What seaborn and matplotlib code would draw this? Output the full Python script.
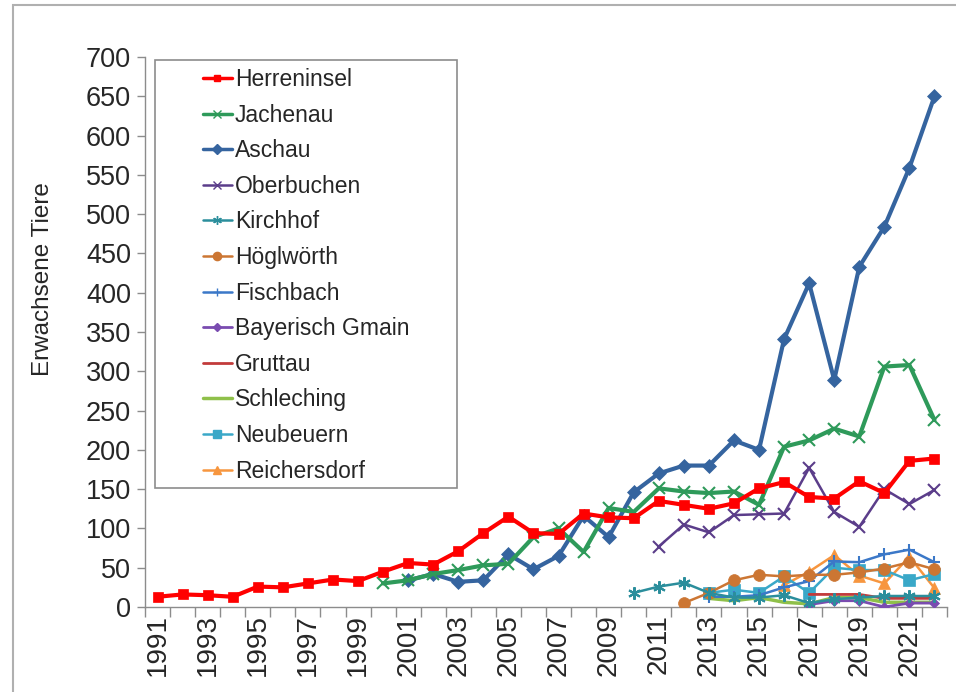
import numpy as np
import pandas as pd
import seaborn as sns
import matplotlib.pyplot as plt
from matplotlib.lines import Line2D
from matplotlib.patches import Rectangle

# values (adult animals per colony)
years_herreninsel = list(range(1991, 2023))
herreninsel = [13, 16, 15, 13, 26, 25, 30, 35, 33, 45, 56, 54, 71, 94, 115, 94, 93, 119, 114, 113,
               135, 130, 125, 132, 151, 159, 140, 138, 160, 145, 186, 189]

years_jachenau = list(range(2000, 2023))
jachenau = [30, 34, 42, 47, 53, 55, 89, 100, 70, 126, 121, 151, 147, 145, 147, 130, 204, 212, 227,
            217, 306, 308, 238]

years_aschau = list(range(2001, 2023))
aschau = [34, 42, 32, 34, 67, 48, 65, 116, 89, 146, 170, 180, 180, 212, 200, 341, 412, 289, 433,
          484, 559, 650]

years_oberbuchen = list(range(2011, 2023))
oberbuchen = [77, 105, 95, 117, 118, 119, 177, 121, 102, 150, 131, 149]

years_kirchhof = list(range(2010, 2023))
kirchhof = [18, 26, 31, 18, 12, 12, 15, 5, 10, 12, 14, 14, 14]

years_hoeglwoerth = list(range(2012, 2023))
hoeglwoerth = [5, 18, 34, 41, 39, 41, 41, 44, 49, 57, 48]

years_fischbach = list(range(2013, 2023))
fischbach = [13, 13, 15, 25, 33, 58, 57, 67, 73, 57]

years_bayerisch_gmain = list(range(2017, 2023))
bayerisch_gmain = [3, 8, 8, 0, 5, 5]

years_gruttau = list(range(2017, 2023))
gruttau = [16, 16, 16, 11, 11, 11]

years_schleching = list(range(2013, 2023))
schleching = [11, 8, 12, 6, 4, 12, 12, 6, 6, 6]

years_neubeuern = list(range(2013, 2023))
neubeuern = [18, 22, 18, 39, 18, 50, 47, 47, 34, 42]

years_reichersdorf = list(range(2016, 2023))
reichersdorf = [28, 45, 66, 40, 30, 64, 24]

names = ["Herreninsel", "Jachenau", "Aschau", "Oberbuchen", "Kirchhof", "Höglwörth",
         "Fischbach", "Bayerisch Gmain", "Gruttau", "Schleching", "Neubeuern", "Reichersdorf"]
all_years = [years_herreninsel, years_jachenau, years_aschau, years_oberbuchen, years_kirchhof,
             years_hoeglwoerth, years_fischbach, years_bayerisch_gmain, years_gruttau,
             years_schleching, years_neubeuern, years_reichersdorf]
all_values = [herreninsel, jachenau, aschau, oberbuchen, kirchhof, hoeglwoerth, fischbach,
              bayerisch_gmain, gruttau, schleching, neubeuern, reichersdorf]

# styles: colour, marker, marker size, line width
styles = {
    "Herreninsel": ("#FF0000", "s", 6.5, 3.0),
    "Jachenau": ("#2E9A5A", "x", 9, 3.0),
    "Aschau": ("#35649F", "D", 7.5, 3.0),
    "Oberbuchen": ("#5B3D8A", "x", 9, 1.8),
    "Kirchhof": ("#2B8E9C", (6, 2, 0), 9, 1.8),
    "Höglwörth": ("#CC7633", "o", 8.5, 1.8),
    "Fischbach": ("#3B78C8", "+", 9, 1.8),
    "Bayerisch Gmain": ("#7A4CB0", "D", 5.5, 2.0),
    "Gruttau": ("#C23B3B", None, 0, 2.0),
    "Schleching": ("#8FC04A", None, 0, 2.5),
    "Neubeuern": ("#3AA8C8", "s", 8.5, 1.8),
    "Reichersdorf": ("#F7963F", "^", 9, 1.8),
}

frames = []
for name, yrs, vals in zip(names, all_years, all_values):
    frames.append(pd.DataFrame({"Jahr": yrs, "Tiere": vals, "Kolonie": name}))
df = pd.concat(frames, ignore_index=True)

sns.set_style("white")
plt.rcParams["font.family"] = ["Liberation Sans", "DejaVu Sans"]

fig = plt.figure(figsize=(9.56, 6.92), dpi=100)
ax = fig.add_axes([145 / 956, 1 - 607 / 692, 802 / 956, 550 / 692])

# draw in reverse so the first series sits on top
for name in names[::-1]:
    color, marker, ms, lw = styles[name]
    sub = df[df["Kolonie"] == name]
    sns.lineplot(data=sub, x="Jahr", y="Tiere", ax=ax, color=color, linewidth=lw,
                 marker=marker, markersize=ms, markeredgecolor=color,
                 markeredgewidth=1.5 if marker in ("x", "+", (6, 2, 0)) else 0.5,
                 legend=False, zorder=3)

ax.set_xlim(1990.5, 2022.5)
ax.set_ylim(0, 700)
ax.set_yticks(np.arange(0, 701, 50))
ax.set_xticks(np.arange(1990.5, 2023, 1))
ax.set_xticklabels([])
ax.set_xticks(range(1991, 2022, 2), minor=True)
ax.set_xticklabels([str(y) for y in range(1991, 2022, 2)], minor=True, rotation=90)
ax.tick_params(axis="x", which="major", direction="out", length=7, width=1, color="#8c8c8c",
               bottom=True)
ax.tick_params(axis="x", which="minor", length=0, pad=5, labelsize=20)
ax.tick_params(axis="y", direction="out", length=6, width=1, color="#8c8c8c", left=True,
               labelsize=19.5, pad=4)
ax.set_xlabel("")
ax.set_ylabel("Erwachsene Tiere", fontsize=17.5)
ax.yaxis.set_label_coords(-0.113, 0.596)

for side in ["top", "right"]:
    ax.spines[side].set_visible(False)
for side in ["left", "bottom"]:
    ax.spines[side].set_color("#8c8c8c")
    ax.spines[side].set_linewidth(1)

# legend
handles = []
for name in names:
    color, marker, ms, lw = styles[name]
    handles.append(Line2D([0], [0], color=color, linewidth=min(lw, 2.5), marker=marker,
                          markersize=ms * 0.7, markeredgecolor=color, markeredgewidth=1))
fig.legend(handles, names, loc="upper left", bbox_to_anchor=(203 / 956, 1 - 68 / 692),
           frameon=False, fontsize=16.5, handlelength=1.25, handletextpad=0.15,
           labelspacing=0.55, borderpad=0, borderaxespad=0)
fig.patches.append(Rectangle((155 / 956, 1 - 488 / 692), 302 / 956, 428 / 692,
                             transform=fig.transFigure, fill=False, edgecolor="#8c8c8c",
                             linewidth=1.2))

# outer frame of the picture
fig.patches.append(Rectangle((13 / 956, -0.05), 1.1, 1.05 - 5 / 692, transform=fig.transFigure,
                             fill=False, edgecolor="#b0b0b0", linewidth=1.5))

fig.savefig("out.png", dpi=100)
